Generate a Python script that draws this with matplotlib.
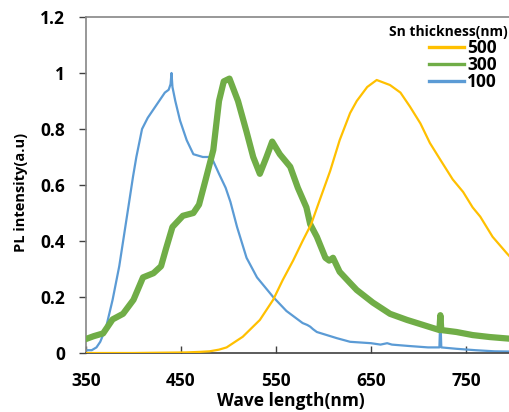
import matplotlib
matplotlib.use("Agg")
import matplotlib.pyplot as plt

plt.rcParams['font.family'] = ['Open Sans', 'DejaVu Sans']
plt.rcParams['font.weight'] = 'bold'

# Series (wavelength nm, normalized PL intensity)
wl_100 = [350, 356, 361, 365, 371, 378, 385, 390, 395, 399.5, 403, 409, 415, 425, 433, 437, 439, 440,
          441, 444, 449, 456, 463, 473, 482, 490, 497, 502, 509, 519, 530, 547, 561, 578, 583, 586,
          589, 593, 614, 628, 650, 660, 667, 672, 690, 710, 722, 723, 724, 740, 760, 780, 800]
pl_100 = [0.01, 0.01, 0.02, 0.04, 0.09, 0.19, 0.31, 0.42, 0.53, 0.63, 0.70, 0.80, 0.84, 0.89, 0.93,
          0.94, 0.96, 1.0, 0.95, 0.90, 0.83, 0.76, 0.71, 0.70, 0.70, 0.64, 0.59, 0.54, 0.45, 0.34, 0.27,
          0.20, 0.15, 0.107, 0.10, 0.094, 0.085, 0.075, 0.053, 0.04, 0.035, 0.03, 0.035, 0.03, 0.025,
          0.02, 0.02, 0.13, 0.02, 0.015, 0.01, 0.006, 0.005]

wl_300 = [350, 358, 368, 378, 389, 400, 410, 421, 429, 434, 441, 452, 463, 469, 476, 484, 490, 495,
          501, 510, 519, 526, 533, 540, 546, 554, 565, 573, 582, 586, 593, 602, 606, 610, 617, 628,
          635, 652, 670, 688, 705, 722, 723, 724, 740, 757, 775, 800]
pl_300 = [0.05, 0.06, 0.07, 0.12, 0.14, 0.19, 0.27, 0.285, 0.31, 0.37, 0.45, 0.49, 0.50, 0.53, 0.62,
          0.725, 0.90, 0.97, 0.98, 0.90, 0.79, 0.70, 0.64, 0.70, 0.755, 0.71, 0.665, 0.59, 0.52, 0.46,
          0.415, 0.34, 0.33, 0.34, 0.29, 0.25, 0.225, 0.18, 0.14, 0.118, 0.10, 0.082, 0.135, 0.082, 0.075,
          0.064, 0.057, 0.05]

wl_500 = [350, 400, 455, 470, 480, 490, 498, 515, 533, 547, 557, 568, 578, 587, 596, 607, 617, 628,
          635, 646, 656, 670, 681, 691, 702, 712, 723, 736, 747, 757, 765, 778, 793, 800]
pl_500 = [0.0, 0.0, 0.002, 0.004, 0.006, 0.012, 0.02, 0.058, 0.118, 0.19, 0.26, 0.33, 0.40, 0.46,
          0.546, 0.65, 0.76, 0.857, 0.90, 0.95, 0.975, 0.957, 0.93, 0.88, 0.82, 0.75, 0.69, 0.62, 0.575,
          0.52, 0.487, 0.415, 0.356, 0.33]

labels = ['500', '300', '100']
colors = ['#FFC000', '#70AD47', '#5B9BD5']
x_ticks = [350, 450, 550, 650, 750]
y_ticks = [0, 0.2, 0.4, 0.6, 0.8, 1.0, 1.2]
y_ticklabels = ['0', '0.2', '0.4', '0.6', '0.8', '1', '1.2']

W, H = 510, 412
fig = plt.figure(figsize=(W / 100, H / 100), dpi=100)
ax = fig.add_axes([86 / W, (H - 353) / H, 427.5 / W, 336 / H])

ax.plot(wl_100, pl_100, color=colors[2], lw=1.6, label=labels[2], zorder=2, solid_joinstyle='round')
ax.plot(wl_300, pl_300, color=colors[1], lw=4.5, label=labels[1], zorder=3, solid_joinstyle='round')
ax.plot(wl_500, pl_500, color=colors[0], lw=1.6, label=labels[0], zorder=4, solid_joinstyle='round')

ax.set_xlim(350, 800)
ax.set_ylim(0, 1.2)
ax.set_xticks(x_ticks)
ax.set_yticks(y_ticks)
ax.set_yticklabels(y_ticklabels)

ax.tick_params(axis='x', direction='in', length=5, width=1, pad=14, labelsize=12.5, color='#404040')
ax.tick_params(axis='y', direction='out', length=5, width=1, pad=10, labelsize=12.5, color='#404040')
for t in ax.get_xticklabels() + ax.get_yticklabels():
    t.set_fontweight('bold')

ax.spines['left'].set_color('#868686')
ax.spines['top'].set_color('#868686')
ax.spines['bottom'].set_color('#404040')
ax.spines['right'].set_visible(False)
for s in ax.spines.values():
    s.set_linewidth(1.2)

ax.set_xlabel('Wave length(nm)', fontsize=12.5, fontweight='bold')
ax.xaxis.set_label_coords((291 - 86) / 427.5, -(401 - 353) / 336, transform=ax.transAxes)
ax.xaxis.label.set_va('center')
ax.set_ylabel('PL intensity(a.u)', fontsize=10.5, fontweight='bold')
ax.yaxis.set_label_coords(-(86 - 21) / 427.5, (353 - 192) / 336, transform=ax.transAxes)
ax.yaxis.label.set_va('center')

fig.text(508 / W, (H - 32) / H, 'Sn thickness(nm)', ha='right', va='center',
         fontsize=10, fontweight='bold')

handles, labs = ax.get_legend_handles_labels()
order = [2, 1, 0]
leg = ax.legend([handles[i] for i in order], [labs[i] for i in order],
                prop={'weight': 'bold', 'size': 12.5}, frameon=False,
                loc='upper right', bbox_to_anchor=(497 / W, (H - 39) / H),
                bbox_transform=fig.transFigure, handlelength=2.0, handletextpad=0.2,
                labelspacing=-0.05, borderpad=0, borderaxespad=0)
for line in leg.get_lines():
    line.set_linewidth(2.4)

fig.savefig('out.png', dpi=100)
